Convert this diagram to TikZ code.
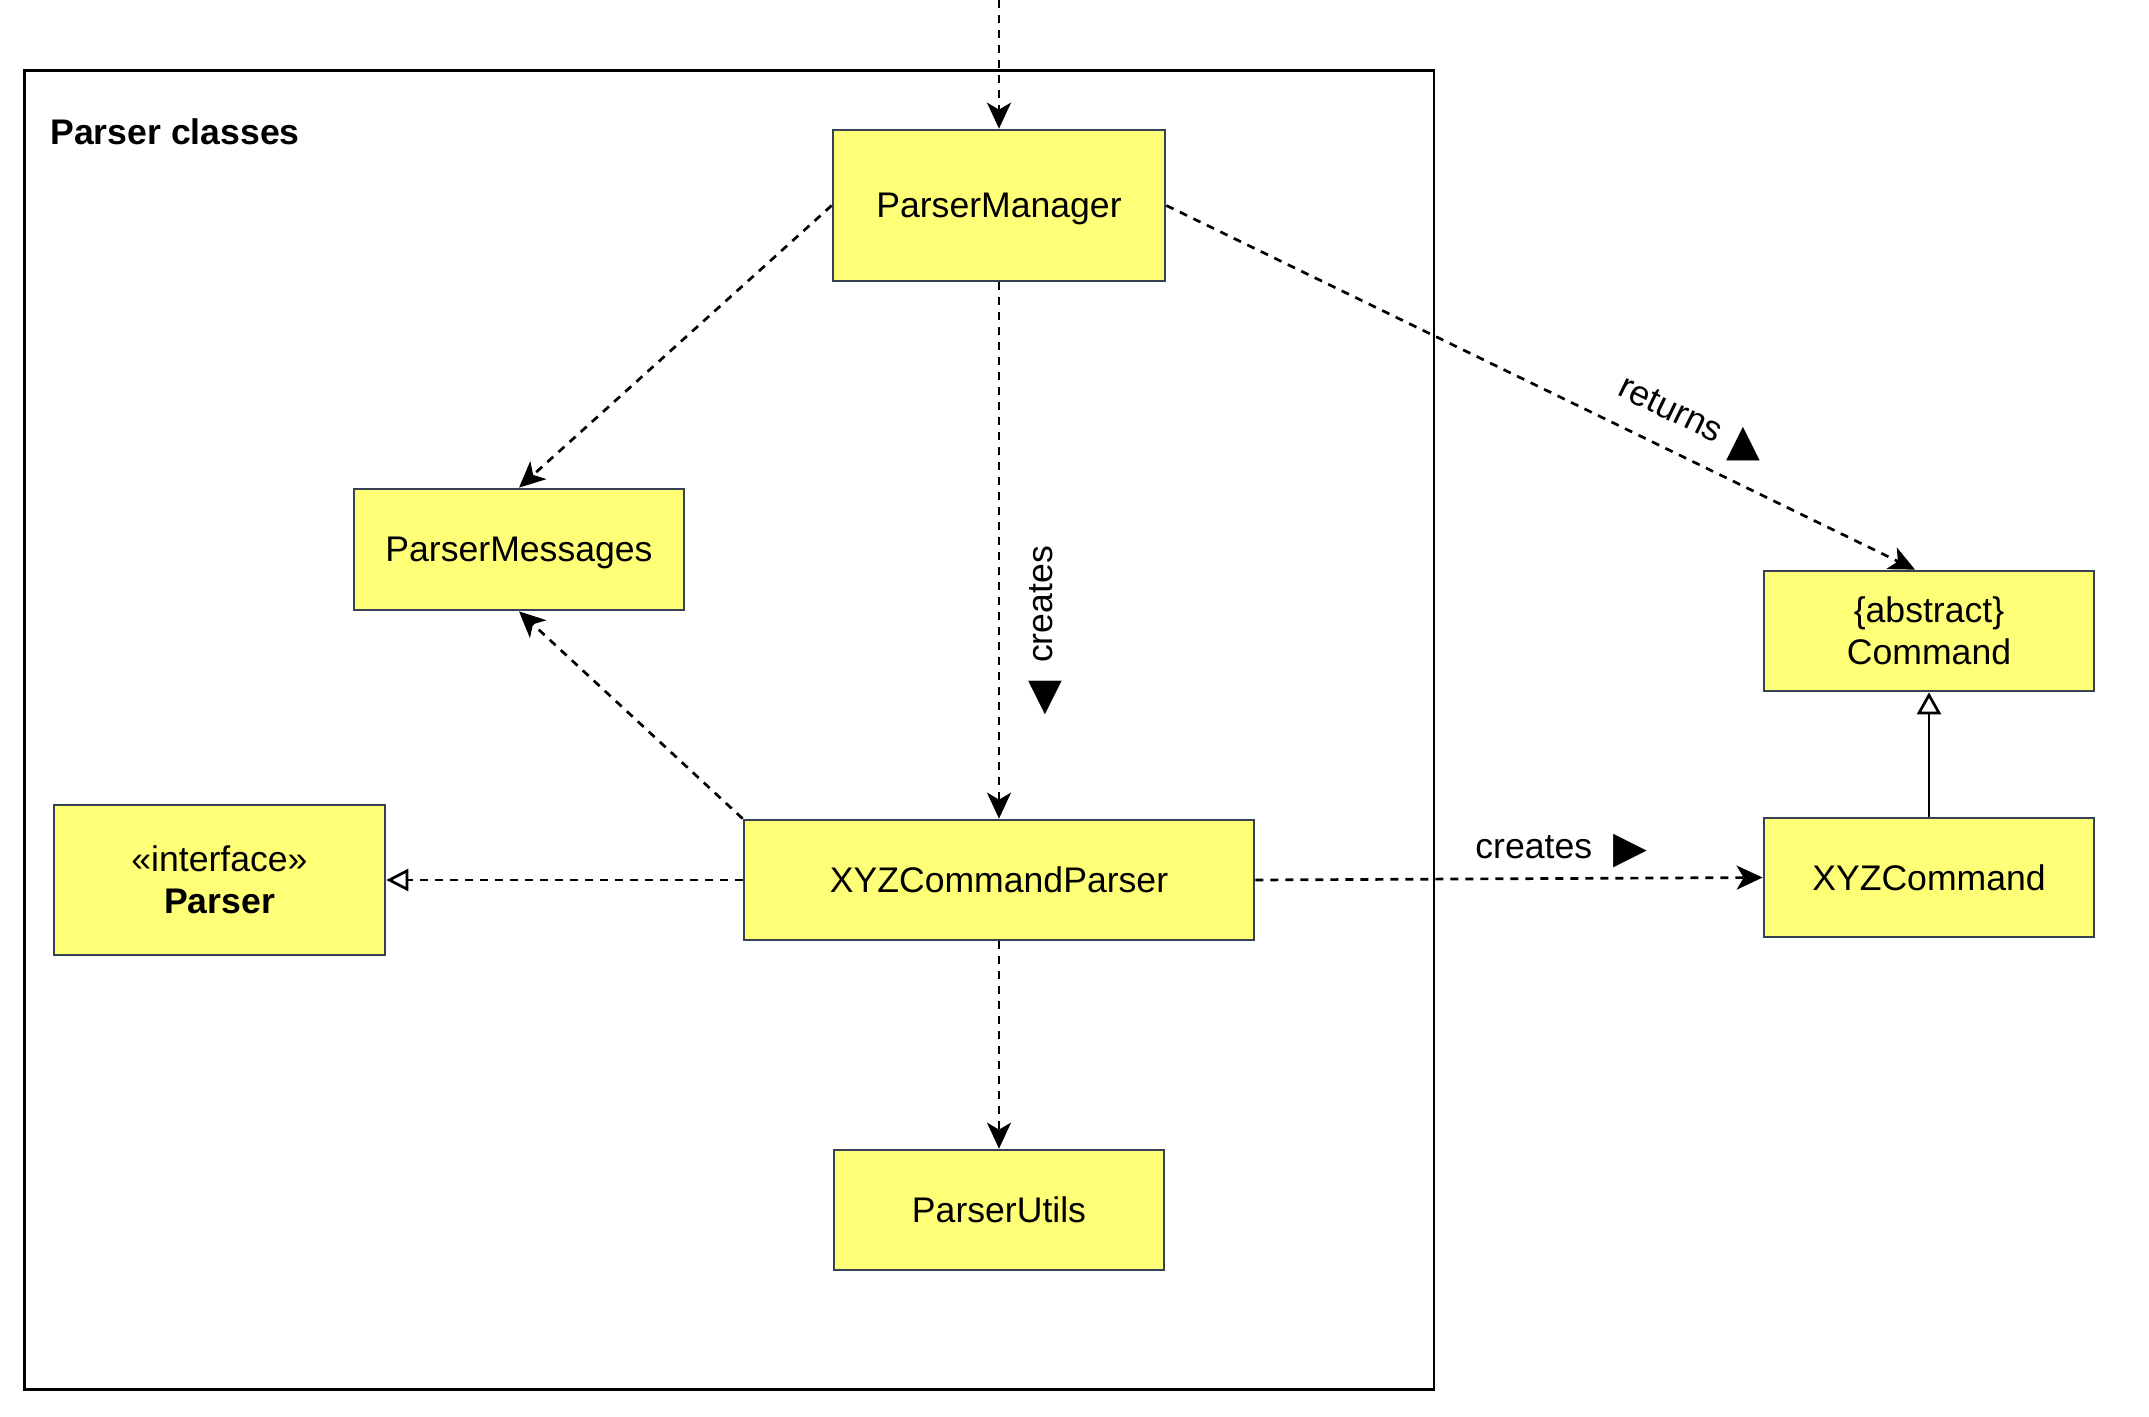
\documentclass[tikz,border=0pt]{standalone}
\usepackage{fontspec}
\setmainfont{Liberation Sans}
\newfontfamily\symfont{DejaVu Sans}
\usetikzlibrary{arrows.meta}
\definecolor{boxfill}{RGB}{255,255,119}
\definecolor{boxline}{RGB}{54,65,83}
\begin{document}
\begin{tikzpicture}[x=0.5pt,y=-0.5pt,
  lbl/.style={inner sep=0pt, font=\fontsize{17.8}{21}\selectfont},
  cls/.style={draw=boxline, fill=boxfill, line width=1.35pt, inner sep=0pt,
    align=center, text depth=0pt, font=\fontsize{17.8}{21}\selectfont},
  frame/.style={draw=black, line width=1.35pt, inner sep=0pt},
  tri/.style={inner sep=0pt, font=\symfont\fontsize{22}{22}\selectfont},
  dep/.style={line width=1.35pt, dash pattern=on 4pt off 3.5pt,
    -{Stealth[length=13pt,width=12pt,inset=3.5pt]}},
  real/.style={line width=1.35pt, dash pattern=on 4pt off 3.5pt,
    -{Triangle[open,length=11pt,width=11pt,fill=white]}},
  inh/.style={line width=1.35pt,
    -{Triangle[open,length=11pt,width=12pt,fill=white]}}]
\useasboundingbox (0,0) rectangle (2149,1417);
% package frame
\node[frame, minimum width=704.65pt, minimum height=659.5pt] (pkg) at (729.35,730) {};
\node[lbl, anchor=base west, font=\fontsize{17.8}{21}\selectfont\bfseries] (title) at (50,144.5) {Parser classes};
% classes
\node[cls, minimum width=166pt, minimum height=75.5pt] (pm) at (999,205.5) {ParserManager};
\node[cls, minimum width=165pt, minimum height=60.5pt] (pmsg) at (519,549.5) {ParserMessages};
\node[cls, minimum width=165.5pt, minimum height=75pt] (parser) at (219.5,880) {«interface»\\\textbf{Parser}};
\node[cls, minimum width=255pt, minimum height=60pt] (xcp) at (999,880) {XYZCommandParser};
\node[cls, minimum width=165pt, minimum height=60pt] (pu) at (999,1210) {ParserUtils};
\node[cls, minimum width=165pt, minimum height=60pt] (cmd) at (1929,631) {\{abstract\}\\Command};
\node[cls, minimum width=165pt, minimum height=59.5pt] (xc) at (1929,877.5) {XYZCommand};
% connectors
\coordinate (entry) at (999,0);
\draw[dep] (entry) -- (pm.north);
\draw[dep] (pm.west) -- (pmsg.north);
\draw[dep] (pm.south) -- (xcp.north);
\draw[dep] (pm.east) -- ([xshift=-7pt]cmd.north);
\draw[dep] (xcp.north west) -- (pmsg.south);
\draw[real] (xcp.west) -- (parser.east);
\draw[dep] (xcp.south) -- (pu.north);
\draw[dep] (xcp.east) -- (xc.west);
\draw[inh] (xc.north) -- (cmd.south);
% labels
\node[lbl, rotate=90] (crv) at (1041,604.5) {creates};
\node[tri] (crvt) at (1045,698) {▼};
\node[lbl, rotate=-26] (ret) at (1671,409) {returns};
\node[tri] (rett) at (1743,444) {▲};
\node[lbl, anchor=base west] (crh) at (1475,858) {creates};
\node[tri] (crht) at (1630,851) {▶};
\end{tikzpicture}
\end{document}
